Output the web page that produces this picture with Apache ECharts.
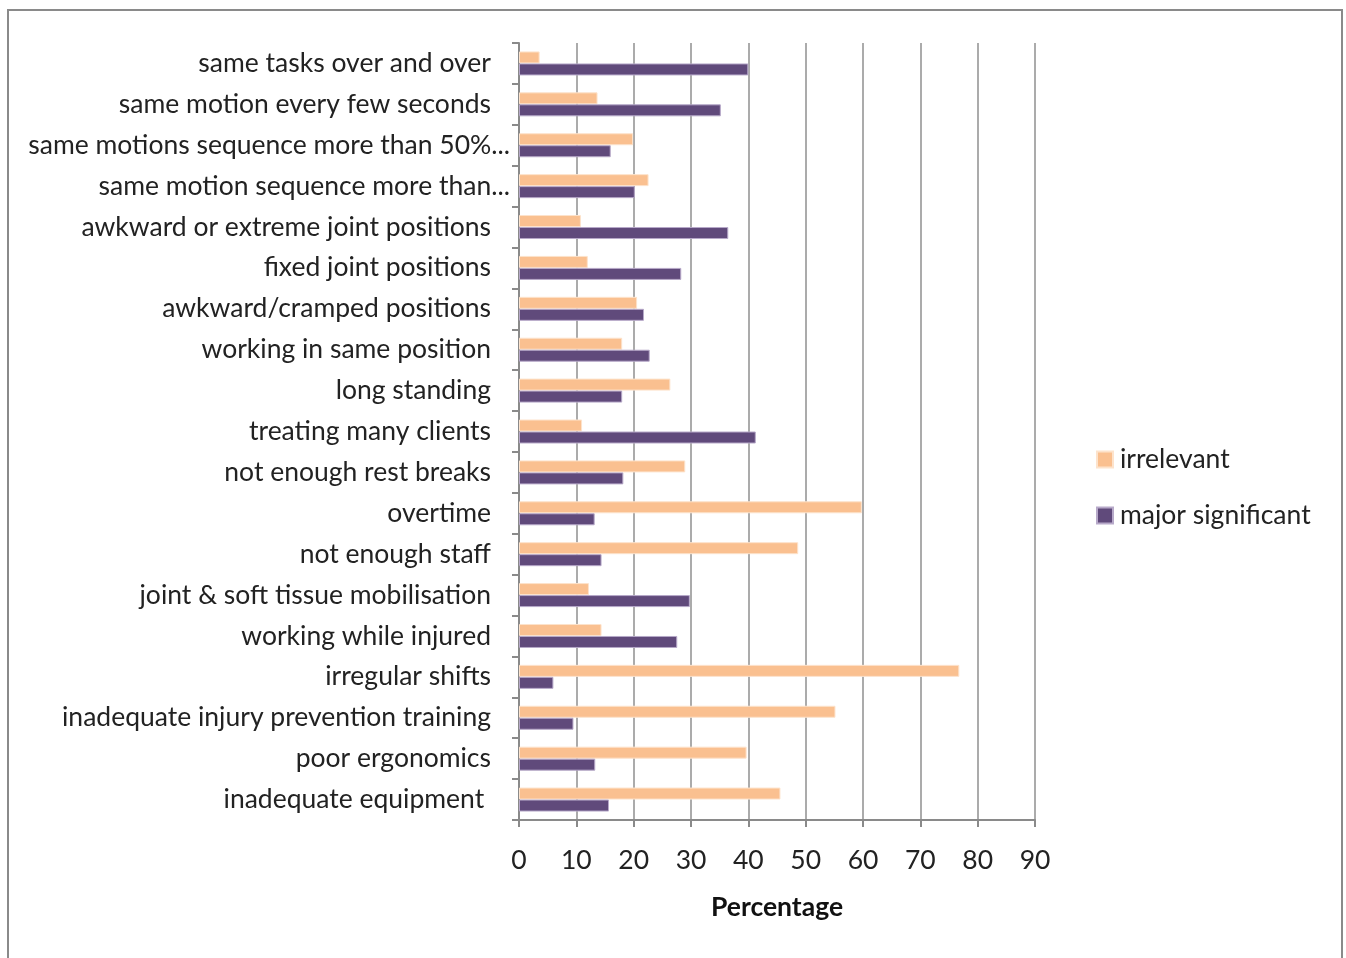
<!DOCTYPE html>
<html>
<head>
<meta charset="utf-8">
<script src="https://cdn.jsdelivr.net/npm/echarts@6/dist/echarts.min.js"></script>
<style>
  html, body {
    margin: 0;
    padding: 0;
    background: #fff;
  }
  .frame {
    position: absolute;
    left: 7px;
    top: 9px;
    width: 1336px;
    height: 980px;
    border: 2px solid #8a8a8a;
    box-sizing: border-box;
  }
  #main {
    position: absolute;
    left: 0;
    top: 0;
    width: 1346px;
    height: 958px;
  }
</style>
</head>
<body>
<div class="frame"></div>
<div id="main"></div>
<script type="text/javascript">
// categories top to bottom
var categories = [
  'same tasks over and over',
  'same motion every few seconds',
  'same motions sequence more than 50%...',
  'same motion sequence more than...',
  'awkward or extreme joint positions',
  'fixed joint positions',
  'awkward/cramped positions',
  'working in same position',
  'long standing',
  'treating many clients',
  'not enough rest breaks',
  'overtime',
  'not enough staff',
  'joint & soft tissue mobilisation',
  'working while injured',
  'irregular shifts',
  'inadequate injury prevention training',
  'poor ergonomics',
  'inadequate equipment '
]
var irrelevant = [3.6, 13.7, 19.9, 22.6, 10.8, 12.0, 20.6, 18.0, 26.4, 11.0, 29.0, 59.8, 48.7, 12.2, 14.4, 76.8, 55.2, 39.7, 45.6]
var majorSignificant = [40.0, 35.2, 16.0, 20.2, 36.5, 28.3, 21.8, 22.8, 18.0, 41.3, 18.2, 13.2, 14.4, 29.8, 27.6, 6.0, 9.5, 13.3, 15.7]
var xTicks = { min: 0, max: 90, interval: 10 }

var fontFamily = 'Lato, "Open Sans", sans-serif'
var fontSize = 26.5
var chart = echarts.init(document.getElementById('main'))

var option = {
  animation: false,
  color: ['#FAC090', '#604A7B'],
  textStyle: { fontFamily: fontFamily },
  legend: {
    orient: 'vertical',
    left: 1091,
    top: 441,
    itemWidth: 16,
    itemHeight: 16,
    itemGap: 29,
    icon: 'rect',
    textStyle: { fontSize: fontSize, color: '#222', fontFamily: fontFamily, padding: [0, 0, 0, 2] },
    data: ['irrelevant', 'major significant']
  },
  grid: {
    left: 519,
    right: 311,
    top: 43,
    bottom: 138
  },
  xAxis: {
    type: 'value',
    min: xTicks.min,
    max: xTicks.max,
    interval: xTicks.interval,
    name: 'Percentage',
    nameLocation: 'middle',
    nameGap: 74,
    nameTextStyle: { fontSize: fontSize, fontWeight: 'bold', color: '#111', fontFamily: fontFamily },
    axisLine: { show: true, lineStyle: { color: '#8a8a8a', width: 2 } },
    axisTick: { show: true, length: 7, lineStyle: { color: '#8a8a8a', width: 2 } },
    axisLabel: { fontSize: fontSize, color: '#222', margin: 27, fontFamily: fontFamily },
    splitLine: { show: true, lineStyle: { color: '#8f8f8f', width: 1.5 } }
  },
  yAxis: {
    type: 'category',
    inverse: true,
    data: categories,
    axisLine: { show: true, lineStyle: { color: '#8a8a8a', width: 2 } },
    axisTick: { show: true, length: 7, lineStyle: { color: '#8a8a8a', width: 2 } },
    axisLabel: {
      margin: 9,
      formatter: function (v) {
        // truncated labels in the original reach closer to the axis
        return v.indexOf('...') > -1 ? '{t|' + v + '}' : '{t|' + v + '}{s|}'
      },
      rich: {
        t: { fontSize: fontSize, color: '#222', fontFamily: fontFamily },
        s: { width: 19 }
      }
    },
    splitLine: { show: false }
  },
  series: [
    {
      name: 'irrelevant',
      type: 'bar',
      barWidth: 12,
      barGap: '0%',
      data: irrelevant,
      itemStyle: { borderColor: '#fde3cc', borderWidth: 1 }
    },
    {
      name: 'major significant',
      type: 'bar',
      barWidth: 12,
      barGap: '0%',
      data: majorSignificant,
      itemStyle: { borderColor: '#b7a9c9', borderWidth: 1 }
    }
  ]
}

chart.setOption(option, true)
</script>
</body>
</html>
